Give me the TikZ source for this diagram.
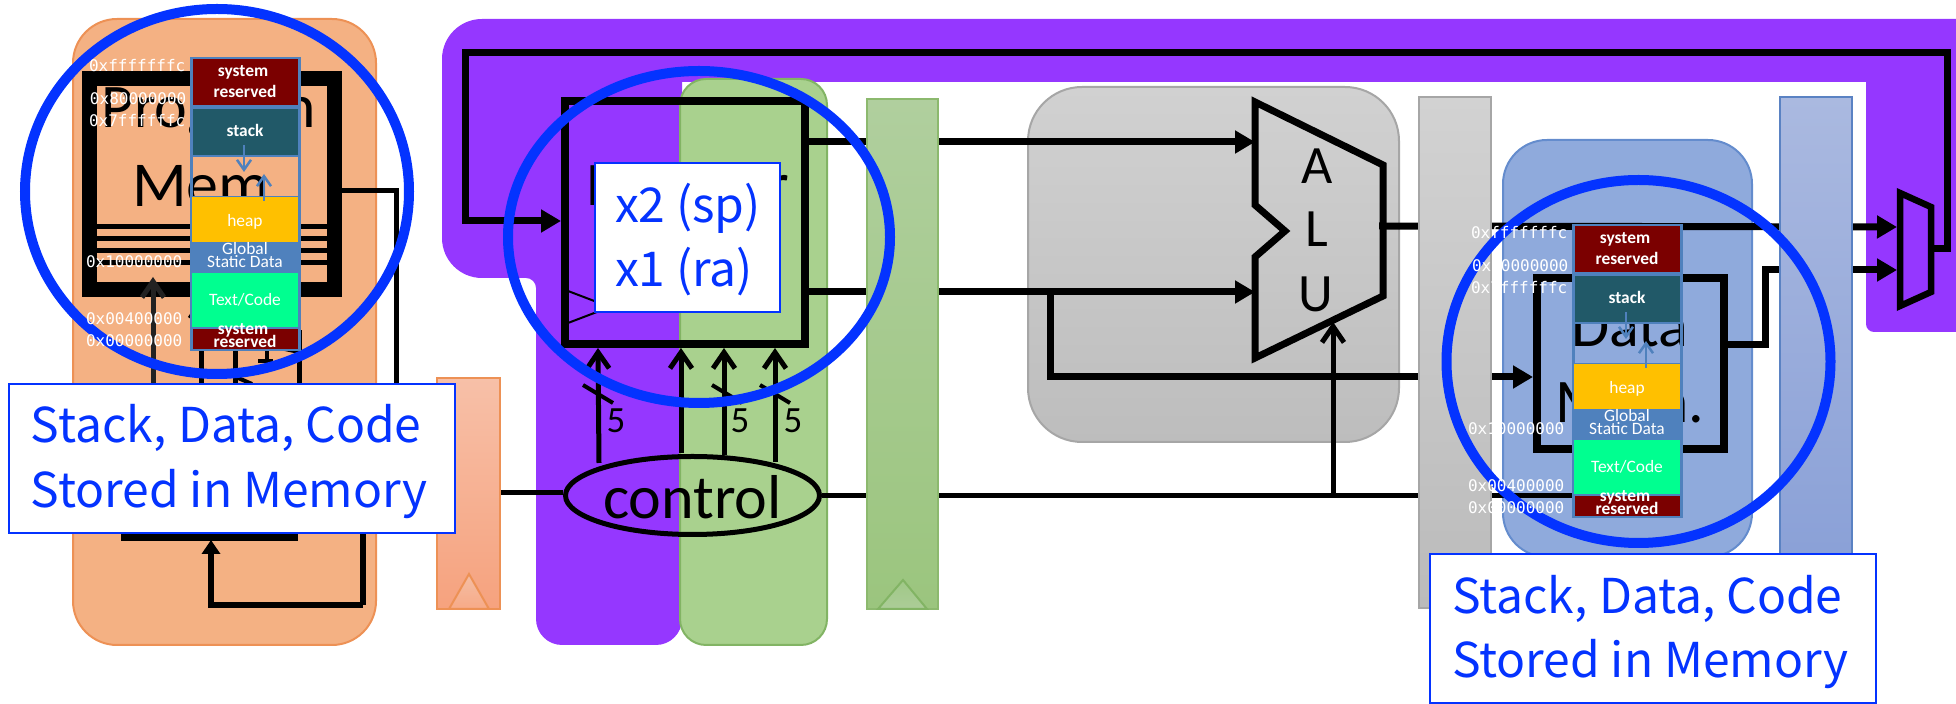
\documentclass[tikz,border=0pt]{standalone}
\usepackage{fontspec}
\usetikzlibrary{arrows.meta,shapes.geometric}
\setmainfont{Carlito}
\newfontfamily\calloutfont{Noto Sans CJK SC}
\newfontfamily\addrfont{DejaVu Sans Mono}
\definecolor{idpurple}{HTML}{9537FF}
\definecolor{calloutblue}{HTML}{0433FF}
\definecolor{cellborder}{HTML}{4F81BD}
\definecolor{sysred}{HTML}{7B0000}
\definecolor{stackteal}{HTML}{215968}
\definecolor{heapgold}{HTML}{FFC000}
\definecolor{codegreen}{HTML}{00FF90}
\definecolor{orangeline}{HTML}{ED9155}
\definecolor{orangefill}{HTML}{F4B183}
\definecolor{greenline}{HTML}{82B464}
\definecolor{greenfill}{HTML}{A9D18E}
\definecolor{grayline}{HTML}{A6A6A6}
\definecolor{grayA}{HTML}{D1D1D1}
\definecolor{grayB}{HTML}{BDBDBD}
\definecolor{blueline}{HTML}{648CCD}
\definecolor{bluefill}{HTML}{8FAADC}
\definecolor{ifA}{HTML}{F7C0A8}
\definecolor{ifB}{HTML}{F6A27E}
\definecolor{iftriA}{HTML}{F4BEA5}
\definecolor{iftriB}{HTML}{F7AA87}
\definecolor{idA}{HTML}{B0CF9E}
\definecolor{idB}{HTML}{9BC57E}
\definecolor{idtriA}{HTML}{A0C887}
\definecolor{idtriB}{HTML}{ACCD98}
\definecolor{idline}{HTML}{8CB96E}
\definecolor{exA}{HTML}{D2D2D2}
\definecolor{exB}{HTML}{BBBBBB}
\definecolor{wbA}{HTML}{AAB9E0}
\definecolor{wbB}{HTML}{879ED6}
\definecolor{wbline}{HTML}{5A82C3}
\definecolor{dark}{HTML}{222222}
\tikzset{
  pxbox/.style 2 args={rectangle,minimum width=#1*0.5pt,minimum height=#2*0.5pt,inner sep=0pt,outer sep=0pt},
  stage/.style={draw=#1,line width=1pt,rounded corners=22pt},
  blk/.style={draw=black,line width=3.75pt,line join=miter},
  bus/.style={draw=black,line width=3.5pt,line join=miter},
  thinwire/.style={draw=black,line width=2.5pt,line join=miter},
  fat/.style={-{Triangle[length=10pt,width=11pt]}},
  barb/.style={-{Straight Barb[length=8pt,width=11pt,line width=2.5pt]}},
  bigtxt/.style={inner sep=0pt,outer sep=0pt,anchor=base,font=\fontsize{31}{31}\selectfont},
  alutxt/.style={inner sep=0pt,outer sep=0pt,anchor=base,font=\fontsize{27}{27}\selectfont},
  bustxt/.style={inner sep=0pt,outer sep=0pt,anchor=base,font=\fontsize{18.5}{18.5}\selectfont},
  cell/.style={draw=cellborder,line width=1.25pt,anchor=north west,inner sep=0pt,outer sep=0pt},
  celltxt/.style={text=white,inner sep=0pt,outer sep=0pt,anchor=base,font=\fontsize{8.7}{8.7}\selectfont},
  cellbold/.style={text=white,inner sep=0pt,outer sep=0pt,anchor=base,font=\fontsize{8.7}{8.7}\selectfont\bfseries},
  addr/.style={text=white,inner sep=0pt,outer sep=0pt,anchor=base west,font=\addrfont\fontsize{8}{8}\selectfont},
  ring/.style={ellipse,draw=calloutblue,line width=5pt,inner sep=0pt,outer sep=0pt},
  callout/.style={draw=calloutblue,fill=white,line width=1pt,rectangle,inner sep=0pt,outer sep=0pt},
  callouttxt/.style={text=calloutblue,inner sep=0pt,outer sep=0pt,anchor=base west,font=\calloutfont\fontsize{24}{24}\selectfont},
}
\newcommand{\memmap}[3]{%
\begin{scope}[shift={(#2,#3)}]
  \node[pxbox={108}{48},cell,fill=sysred] (#1sysA) at (191.5,58) {};
  \node[pxbox={108}{48},cell,fill=stackteal] (#1stack) at (191.5,108) {};
  \node[pxbox={108}{41},cell] (#1gap) at (191.5,156) {};
  \node[pxbox={108}{46},cell,draw=none,fill=heapgold] (#1heap) at (191.5,197) {};
  \node[pxbox={108}{30},cell,fill=cellborder] (#1glob) at (191.5,243) {};
  \node[pxbox={108}{55},cell,draw=none,fill=codegreen] (#1text) at (191.5,273) {};
  \node[pxbox={108}{22},cell,fill=sysred] (#1sysB) at (191.5,328) {};
  \draw[cellborder,line width=1.25pt] (191,58) rectangle (299.5,350);
  \node[cellbold] (#1ta) at (243,77) {system};
  \node[cellbold] (#1tb) at (245,98) {reserved};
  \node[cellbold] (#1tc) at (245,137) {stack};
  \node[celltxt] (#1td) at (245,227) {heap};
  \node[celltxt] (#1te) at (245,255) {Global};
  \node[celltxt] (#1tf) at (245,268) {Static Data};
  \node[celltxt] (#1tg) at (245,306) {Text/Code};
  \node[cellbold] (#1th) at (243,335) {system};
  \node[cellbold] (#1ti) at (245,348) {reserved};
  \coordinate (#1da) at (244,145); \coordinate (#1db) at (244,172);
  \coordinate (#1ua) at (264,201); \coordinate (#1ub) at (264,174);
  \draw[cellborder,line width=1.25pt,-{Straight Barb[length=5pt,width=7pt,line width=1.25pt]}] (#1da) -- (#1db);
  \draw[cellborder,line width=1.25pt,-{Straight Barb[length=5pt,width=7pt,line width=1.25pt]}] (#1ua) -- (#1ub);
  \node[addr] (#1aa) at (89,72) {0xfffffffc};
  \node[addr] (#1ab) at (90,105) {0x80000000};
  \node[addr] (#1ac) at (89,127) {0x7ffffffc};
  \node[addr] (#1ad) at (86,268) {0x10000000};
  \node[addr] (#1ae) at (86,325) {0x00400000};
  \node[addr] (#1af) at (86,347) {0x00000000};
\end{scope}}
\begin{document}
\begin{tikzpicture}[x=0.5pt,y=-0.5pt]
\useasboundingbox (0,0) rectangle (1956,704);
% stage backgrounds
\node[pxbox={303}{626},stage=orangeline,fill=orangefill] (ifstage) at (224.5,332) {};
\fill[idpurple] (900,19) [rounded corners=20pt] -- (442,19) -- (442,278) [rounded corners=5pt] -- (536,278) [rounded corners=13pt] -- (536,645) -- (682,645) [sharp corners] -- (682,82) -- (1866,82) [rounded corners=4pt] -- (1866,332) [sharp corners] -- (1956,332) -- (1956,19) -- cycle;
\node[pxbox={147}{566},stage=greenline,rounded corners=13pt,fill=greenfill] (idstage) at (753.5,362) {};
\node[pxbox={371}{355},stage=grayline,rounded corners=27pt,top color=grayA,bottom color=grayB] (exstage) at (1213.5,264.5) {};
\node[pxbox={249}{417},stage=blueline,fill=bluefill] (memstage) at (1627.5,348.5) {};
% coordinates for connector ends
\coordinate (fbA) at (1932,249); \coordinate (fbB) at (1947,249); \coordinate (fbC) at (1947,53);
\coordinate (fbD) at (465.5,53); \coordinate (fbE) at (465.5,221); \coordinate (regIn) at (561,221);
\coordinate (rs1Out) at (809,142); \coordinate (rs2Out) at (809,292);
\coordinate (aluA) at (1255,142); \coordinate (aluB) at (1255,292);
\coordinate (brA) at (1050,292); \coordinate (brB) at (1050,377); \coordinate (dmemIn) at (1533,377);
\coordinate (aluOut) at (1379,226); \coordinate (muxTop) at (1897,227);
\coordinate (wb1) at (1728,345); \coordinate (wb2) at (1765,345); \coordinate (wb3) at (1765,270); \coordinate (muxBot) at (1897,270);
\coordinate (ctlOut) at (822,496); \coordinate (ctlEnd) at (1600,496); \coordinate (ctlTap) at (1333,496); \coordinate (aluOp) at (1333,322);
\coordinate (ctlIn) at (563,493); \coordinate (latchOut) at (480,493);
\coordinate (imA) at (342,191); \coordinate (imB) at (396,191); \coordinate (imC) at (396,493);
\coordinate (pcA) at (211,540); \coordinate (pcB) at (211,605); \coordinate (pcC) at (363,605); \coordinate (pcD) at (363,450);
% instruction memory
\node[pxbox={245}{211},blk,line width=7.5pt,draw=black] (imem) at (212,184) {};
\node[bigtxt] (imemA) at (209,128) {Program};
\node[bigtxt,font=\fontsize{32}{32}\selectfont] (imemB) at (201,207) {Mem};
\foreach \yy in {227,239,251,263} \draw[black,line width=2.5pt] (97,\yy) -- (327,\yy);
\node[pxbox={170}{70},blk] (pc) at (209.5,502) {};
\coordinate (pcOutA) at (153,384); \coordinate (pcOutB) at (153,277);
\coordinate (addA) at (201,384); \coordinate (addB) at (201,298);
\coordinate (addC) at (235,384); \coordinate (addD) at (235,330);
\coordinate (addE) at (299,384); \coordinate (addF) at (299,330);
\draw[line width=2.5pt,draw=dark,barb] (pcOutA) -- (pcOutB);
\draw[thinwire,barb] (addA) -- (addB);
\draw[thinwire] (addC) -- (addD);
\draw[thinwire] (addE) -- (addF);
\draw[line width=2pt] (222,371) -- (252,384);
\draw[line width=2pt] (258,361) -- (273,361) (267,350) -- (267,361);
\draw[line width=2pt] (280,348) -- (299,352);
\draw[line width=3pt] (pcC) -- (pcD);
\draw[line width=3pt,-{Triangle[length=7pt,width=9pt]}] (pcC) -- (pcB) -- (pcA);
\draw[thinwire] (imA) -- (imB) -- (imC) -- (latchOut);
% register file
\node[pxbox={240}{243},blk] (reg) at (685,222.5) {};
\node[bigtxt] (regT) at (688,206) {Register};
\draw[line width=1pt] (568,291) -- (610,307) -- (568,323);
\draw[bus,fat] (fbA) -- (fbB) -- (fbC) -- (fbD) -- (fbE) -- (regIn);
% control
\node[ellipse,draw=black,line width=2.5pt,minimum width=127pt,minimum height=39pt,inner sep=0pt,outer sep=0pt] (ctl) at (692.5,495.5) {};
\node[bigtxt] (ctlT) at (692.5,519) {control};
\draw[thinwire] (latchOut) -- (ctlIn);
\coordinate (ra) at (599,463); \coordinate (rat) at (598,348);
\coordinate (rb) at (681,453); \coordinate (rbt) at (681,348);
\coordinate (rc) at (724,455); \coordinate (rct) at (724,348);
\coordinate (rd) at (775,462); \coordinate (rdt) at (775,348);
\draw[thinwire,barb] (ra) -- (rat);
\draw[thinwire,barb] (rb) -- (rbt);
\draw[thinwire,barb] (rc) -- (rct);
\draw[thinwire,barb] (rd) -- (rdt);
\draw[line width=2pt] (583,385) -- (613,403);
\draw[line width=2pt] (712,385) -- (742,403);
\draw[line width=2pt] (760,385) -- (790,403);
\node[bustxt] (fiveA) at (616,433) {5};
\node[bustxt] (fiveB) at (740,433) {5};
\node[bustxt] (fiveC) at (793,433) {5};
% ALU
\draw[blk,line width=3.5pt] (1255,102) coordinate (aluTL) -- (1383,165) -- (1383,296) -- (1255,358) -- (1255,257) -- (1285,231) -- (1255,205) -- cycle;
\node[alutxt] (aluT1) at (1317,184) {A};
\node[alutxt] (aluT2) at (1317,247) {L};
\node[alutxt] (aluT3) at (1316,312) {U};
\draw[bus,fat] (rs1Out) -- (aluA);
\draw[bus,fat] (rs2Out) -- (aluB);
\draw[bus,fat] (brA) -- (brB) -- (dmemIn);
\draw[bus,fat] (aluOut) -- (muxTop);
\draw[thinwire] (ctlOut) -- (ctlEnd);
\draw[thinwire,barb] (ctlTap) -- (aluOp);
% data memory
\node[pxbox={187}{171},blk] (dmem) at (1630.5,363.5) {};
\node[bigtxt] (dmemA) at (1630,347) {Data};
\node[bigtxt] (dmemB) at (1630,423) {Mem.};
\draw[bus] (wb1) -- (wb2) -- (wb3) -- (1800,270);
\draw[bus,fat] (1800,270) -- (muxBot);
% mux
\draw[draw=black,line width=3.25pt,line join=miter] (1900,193) -- (1931,207) -- (1931,292) -- (1900,306) -- cycle;
% pipeline latches
\node[pxbox={63}{231},draw=orangeline,line width=1pt,top color=ifA,bottom color=ifB] (ifid) at (468.5,493.5) {};
\draw[draw=orangeline,line width=1pt,top color=iftriA,bottom color=iftriB] (449,609) -- (469,574) -- (489,609) -- cycle;
\node[pxbox={71}{510},draw=idline,line width=1pt,top color=idA,bottom color=idB] (idex) at (902.5,354) {};
\draw[draw=greenline,line width=1pt,top color=idtriA,bottom color=idtriB] (878,609) -- (903,580) -- (927,609) -- cycle;
\node[pxbox={72}{511},draw=grayline,line width=1pt,top color=exA,bottom color=exB] (exmem) at (1455,352.5) {};
\node[pxbox={72}{511},draw=wbline,line width=1pt,top color=wbA,bottom color=wbB] (memwb) at (1816,352.5) {};
% rings
\node[ring,minimum width=192pt,minimum height=182.5pt] (ringA) at (217,191.5) {};
\node[ring,minimum width=191pt,minimum height=166pt] (ringB) at (699,237) {};
\node[ring,minimum width=192pt,minimum height=181.5pt] (ringC) at (1638.5,361.5) {};
% memory maps
\memmap{ma}{0}{0}
\memmap{mb}{1382}{167}
% callouts
\node[pxbox={185}{149},callout] (xbox) at (687.5,237.5) {};
\node[callouttxt] (xa) at (615,223) {x2 (sp)};
\node[callouttxt] (xb) at (615,287) {x1 (ra)};
\node[pxbox={446}{149},callout] (cbA) at (232,458.5) {};
\node[callouttxt] (cbAa) at (31,443) {Stack, Data, Code};
\node[callouttxt] (cbAb) at (31,508) {Stored in Memory};
\node[pxbox={446}{149},callout] (cbB) at (1653,628.5) {};
\node[callouttxt] (cbBa) at (1452,614) {Stack, Data, Code};
\node[callouttxt] (cbBb) at (1452,678) {Stored in Memory};
\end{tikzpicture}
\end{document}
